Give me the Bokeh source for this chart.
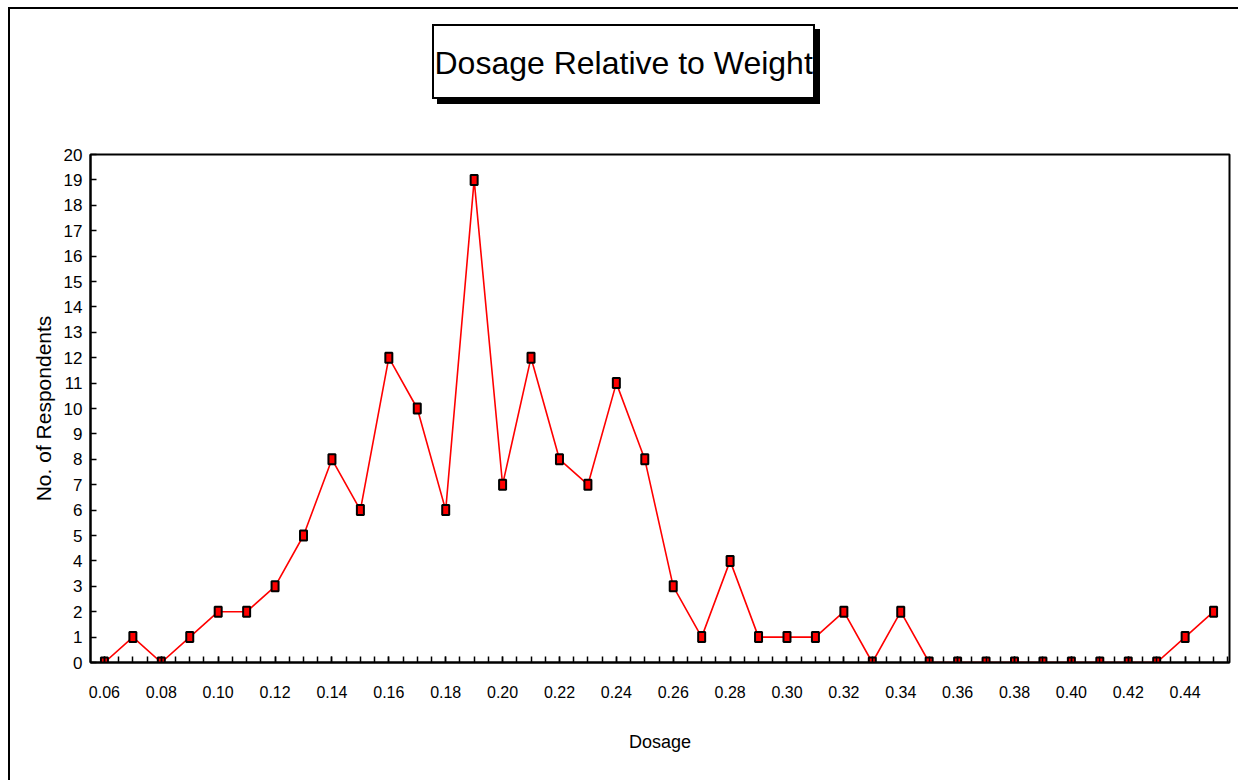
from bokeh.plotting import figure
from bokeh.models import FixedTicker, CustomJSTickFormatter, InlineStyleSheet, Title
from bokeh.embed import file_html
from bokeh.resources import INLINE

title_text = "Dosage Relative to Weight"
x_label = "Dosage"
y_label = "No. of Respondents"

dosage = [0.06, 0.07, 0.08, 0.09, 0.10, 0.11, 0.12, 0.13, 0.14, 0.15,
          0.16, 0.17, 0.18, 0.19, 0.20, 0.21, 0.22, 0.23, 0.24, 0.25,
          0.26, 0.27, 0.28, 0.29, 0.30, 0.31, 0.32, 0.33, 0.34, 0.35,
          0.36, 0.37, 0.38, 0.39, 0.40, 0.41, 0.42, 0.43, 0.44, 0.45]
respondents = [0, 1, 0, 1, 2, 2, 3, 5, 8, 6,
               12, 10, 6, 19, 7, 12, 8, 7, 11, 8,
               3, 1, 4, 1, 1, 1, 2, 0, 2, 0,
               0, 0, 0, 0, 0, 0, 0, 0, 1, 2]

x_tick_values = [0.06, 0.08, 0.10, 0.12, 0.14, 0.16, 0.18, 0.20, 0.22, 0.24,
                 0.26, 0.28, 0.30, 0.32, 0.34, 0.36, 0.38, 0.40, 0.42, 0.44]
x_minor_values = [round(0.055 + 0.005 * i, 3) for i in range(81)]
y_tick_values = list(range(0, 21))

FONT = "Liberation Sans"

W, H = 1238, 780
FL, FR, FT, FB = 90, 1229, 154, 662

# outer frame of the chart and the framed, shadowed title box (decoration only)
deco_css = InlineStyleSheet(css="""
:host { position: relative; }
:host::after {
  content: ''; position: absolute; left: 8px; top: 7px; right: -20px; bottom: -20px;
  border: 2px solid black; pointer-events: none;
}
:host::before {
  content: ''; position: absolute; left: 432px; top: 24px; width: 383px; height: 75px;
  box-sizing: border-box; border: 2px solid black; box-shadow: 5px 5px 0 black;
  pointer-events: none; z-index: 2;
}
""")

p = figure(width=W, height=H, output_backend="svg", toolbar_location=None,
           x_range=(0.0551, 0.4556), y_range=(0, 20),
           min_border_left=FL, min_border_right=W - FR,
           min_border_top=FT, min_border_bottom=H - FB)
p.stylesheets = [deco_css]

# spacer between the frame and the title (keeps the title up in its box)
p.add_layout(Title(text=" ", text_font_size="1px", standoff=71), "above")

p.title.text = title_text
p.title.align = "left"
p.title.offset = 344
p.title.standoff = 0
p.title.vertical_align = "bottom"
p.title.text_font = FONT
p.title.text_font_size = "32px"
p.title.text_font_style = "normal"
p.title.text_color = "black"

p.xgrid.visible = False
p.ygrid.visible = False
p.outline_line_color = "black"
p.outline_line_width = 2
p.background_fill_color = "white"
p.border_fill_color = "white"

p.line(dosage, respondents, line_color="red", line_width=1.6)
p.rect(dosage, respondents, width=7, height=10, width_units="screen", height_units="screen",
       fill_color="red", line_color="black", line_width=2)

p.xaxis.ticker = FixedTicker(ticks=x_tick_values, minor_ticks=x_minor_values)
p.xaxis.formatter = CustomJSTickFormatter(code="return tick.toFixed(2);")
p.yaxis.ticker = FixedTicker(ticks=y_tick_values)

for ax in (p.xaxis[0], p.yaxis[0]):
    ax.axis_line_color = "black"
    ax.axis_line_width = 2
    ax.major_tick_in = 6
    ax.major_tick_out = 0
    ax.major_tick_line_width = 1.5
    ax.minor_tick_in = 6
    ax.minor_tick_out = 0
    ax.minor_tick_line_width = 1.5
    ax.major_label_text_color = "black"
    ax.axis_label_text_color = "black"
    ax.axis_label_text_font_style = "normal"
    ax.major_label_text_font = FONT
    ax.axis_label_text_font = FONT

p.yaxis.minor_tick_line_color = None
p.xaxis.major_label_text_font_size = "16px"
p.xaxis.major_label_standoff = 23
p.yaxis.major_label_text_font_size = "17px"
p.yaxis.major_label_standoff = 8

p.xaxis.axis_label = x_label
p.xaxis.axis_label_text_font_size = "18px"
p.xaxis.axis_label_standoff = 31

p.yaxis.axis_label = y_label
p.yaxis.axis_label_text_font_size = "21px"
p.yaxis.axis_label_standoff = 6

open("out.html", "w").write(file_html(p, INLINE))
